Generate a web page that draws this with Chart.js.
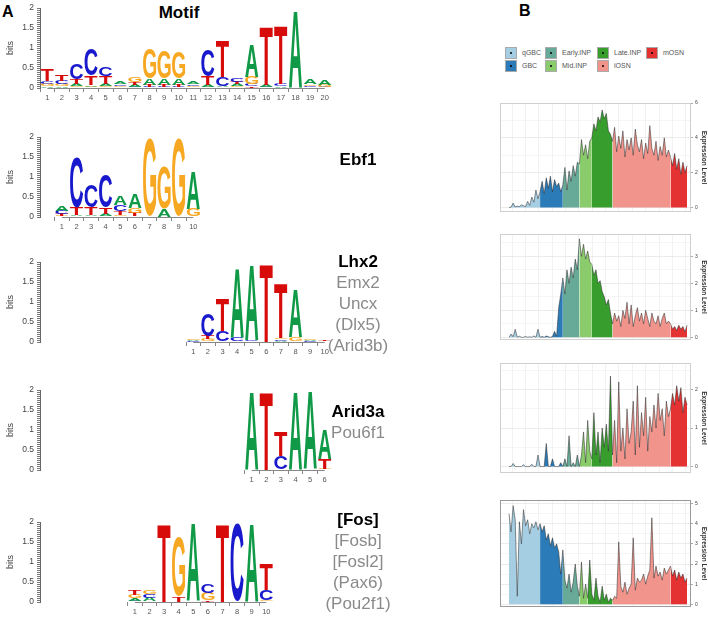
<!DOCTYPE html>
<html>
<head>
<meta charset="utf-8">
<script src="https://cdn.jsdelivr.net/npm/chart.js@4.4.1/dist/chart.umd.min.js"></script>
<style>
  body { margin: 0; background: #fff; font-family: "Liberation Sans", Arial, sans-serif; }
  #wrap { position: relative; width: 708px; height: 617px; overflow: hidden; }
  canvas { position: absolute; }
  .panel-letter { position: absolute; font-weight: bold; font-size: 16px; }
  .title { position: absolute; font-weight: bold; font-size: 17px; left: 139px; width: 80px; text-align: center; top: 3px; }
  .genes { position: absolute; left: 298px; width: 120px; text-align: center; font-size: 17px; line-height: 21px; color: #8a8a8a; }
  .genes b { color: #000; }
  .legend-item { position: absolute; font-size: 7px; color: #555; line-height: 12px; }
  .legend-box { position: absolute; width: 10px; height: 10px; border: 1px solid #aaa; left: 0; top: 0; }
  .legend-box::after { content: ''; position: absolute; left: 4px; top: 4px; width: 2px; height: 2px; background: #000; border-radius: 1px; }
  .legend-item span { position: absolute; left: 17px; top: 0; white-space: nowrap; }
</style>
</head>
<body>
<div id="wrap">
  <div class="panel-letter" style="left:2px;top:3px;">A</div>
  <div class="panel-letter" style="left:519px;top:2px;">B</div>
  <div class="title">Motif</div>

  <canvas id="logo-motif" width="334" height="102" style="left:0;top:0;"></canvas>
  <canvas id="logo-ebf1" width="334" height="102" style="left:0;top:129px;"></canvas>
  <canvas id="logo-lhx2" width="334" height="102" style="left:0;top:254px;"></canvas>
  <canvas id="logo-arid3a" width="334" height="102" style="left:0;top:382px;"></canvas>
  <canvas id="logo-fos" width="334" height="102" style="left:0;top:514px;"></canvas>

  <div class="genes" style="top:149px;"><b>Ebf1</b></div>
  <div class="genes" style="top:251px;"><b>Lhx2</b><br>Emx2<br>Uncx<br>(Dlx5)<br>(Arid3b)</div>
  <div class="genes" style="top:401px;"><b>Arid3a</b><br>Pou6f1</div>
  <div class="genes" style="top:509px;"><b>[Fos]</b><br>[Fosb]<br>[Fosl2]<br>(Pax6)<br>(Pou2f1)</div>

  <div id="legend"></div>

  <canvas id="expr-ebf1" width="208" height="119" style="left:500px;top:98px;"></canvas>
  <canvas id="expr-lhx2" width="208" height="116" style="left:500px;top:229px;"></canvas>
  <canvas id="expr-arid3a" width="208" height="120" style="left:500px;top:358px;"></canvas>
  <canvas id="expr-fos" width="208" height="117" style="left:500px;top:495px;"></canvas>
</div>

<script>
// ---- data ----
const letterColors = { A: '#109a48', C: '#1818cc', G: '#f7a823', T: '#d80b0b' };

// information content (bits) per letter for each motif position
const motifLogo = [
  { T: 0.28, C: 0.07, G: 0.06, A: 0.05 },
  { T: 0.15, C: 0.09, G: 0.05, A: 0.04 },
  { C: 0.38, T: 0.12, A: 0.05, G: 0.04 },
  { C: 0.66, T: 0.24, A: 0.04, G: 0.03 },
  { C: 0.22, T: 0.2, A: 0.06, G: 0.04 },
  { A: 0.07, C: 0.04, G: 0.03, T: 0.02 },
  { G: 0.12, T: 0.07, A: 0.05, C: 0.03 },
  { G: 0.75, A: 0.15, T: 0.05, C: 0.03 },
  { G: 0.7, A: 0.16, T: 0.05, C: 0.03 },
  { G: 0.64, A: 0.17, T: 0.05, C: 0.03 },
  { A: 0.05, C: 0.04, G: 0.03, T: 0.02 },
  { C: 0.66, T: 0.21, A: 0.05, G: 0.03 },
  { T: 0.92, C: 0.22, A: 0.03, G: 0.02 },
  { C: 0.08, T: 0.07, A: 0.05, G: 0.04 },
  { A: 0.8, G: 0.18, C: 0.05, T: 0.04 },
  { T: 1.45, A: 0.05, C: 0.03 },
  { T: 1.45, C: 0.05, A: 0.04 },
  { A: 1.92 },
  { A: 0.12, G: 0.04, C: 0.03, T: 0.02 },
  { A: 0.13, G: 0.05, C: 0.03 }
];
const ebf1Logo = [
  { A: 0.12, C: 0.08, T: 0.05, G: 0.03 },
  { C: 1.25, T: 0.18, A: 0.03, G: 0.02 },
  { C: 0.55, T: 0.2, A: 0.03, G: 0.02 },
  { C: 0.83, T: 0.16, A: 0.05, G: 0.02 },
  { A: 0.22, C: 0.15, T: 0.1, G: 0.04 },
  { A: 0.36, G: 0.13, T: 0.08, C: 0.02 },
  { G: 1.97 },
  { G: 1.05, A: 0.22 },
  { G: 1.97 },
  { A: 0.95, G: 0.2 }
];
const lhx2Logo = [
  { G: 0.03, A: 0.025, C: 0.02, T: 0.01 },
  { C: 0.55, T: 0.08, G: 0.05, A: 0.02 },
  { T: 0.8, C: 0.25, A: 0.02 },
  { A: 1.72, C: 0.12 },
  { A: 1.9, C: 0.04 },
  { T: 1.97 },
  { T: 1.38, C: 0.04, G: 0.04, A: 0.03 },
  { A: 1.2, G: 0.1, C: 0.02 },
  { G: 0.04, A: 0.03, C: 0.02, T: 0.01 },
  { T: 0.015, A: 0.01, C: 0.01, G: 0.01 }
];
const arid3aLogo = [
  { A: 1.97 },
  { T: 1.97 },
  { T: 0.6, C: 0.35 },
  { A: 1.97 },
  { A: 1.96 },
  { A: 0.75, T: 0.25, G: 0.03 }
];
const fosLogo = [
  { T: 0.12, G: 0.08, A: 0.07, C: 0.03 },
  { G: 0.11, C: 0.1, A: 0.08, T: 0.02 },
  { T: 1.97 },
  { G: 1.47, T: 0.15 },
  { A: 1.95, T: 0.02 },
  { C: 0.22, G: 0.18, T: 0.05 },
  { T: 1.97 },
  { C: 1.97 },
  { A: 1.97 },
  { T: 0.65, C: 0.25, G: 0.04 }
];
const bitTickLabels = [0, 0.5, 1, 1.5, 2];

// expression along pseudotime, cells grouped by type
const cellTypes = ['qGBC', 'GBC', 'Early.INP', 'Mid.INP', 'Late.INP', 'iOSN', 'mOSN'];
const cellColors = ['#a6cee3', '#2a7bb8', '#68aa98', '#8acc6c', '#379e2e', '#f1948c', '#e43232'];
const legendOrder = ['qGBC', 'GBC', 'Early.INP', 'Mid.INP', 'Late.INP', 'iOSN', 'mOSN'];
const groupSizes = [15, 11, 8, 6, 10, 28, 9];
const fosGroupSizes = [15, 11, 8, 4, 12, 28, 9];

const ebf1Expr = [
  0, 0.02, 0.25, 0.03, 0.08, 0.05, 0.15, 0.1, 0.05, 0.35, 0.12, 0.6, 0.3, 1.0, 0.5,
  0.9, 1.5, 0.8, 1.7, 1.1, 1.8, 0.9, 1.6, 1.2, 1.4, 0.9,
  1.3, 2.3, 1.0, 2.1, 1.5, 2.4, 1.8, 2.6,
  2.5, 3.9, 3.0, 3.6, 2.8, 3.8,
  4.0, 4.8, 4.4, 5.2, 4.9, 5.6, 5.1, 5.4, 4.4, 4.2,
  3.8, 4.6, 3.2, 4.1, 3.4, 4.4, 2.9, 3.9, 3.3, 4.0, 3.0, 4.5, 3.6, 3.2, 3.9, 2.8, 3.7, 3.1, 4.7, 3.4, 3.0, 3.8, 2.7, 3.5, 3.0, 4.0, 2.9, 3.3,
  2.9, 2.4, 3.1, 2.2, 2.8, 1.9, 2.6, 2.0, 2.4
];
const lhx2Expr = [
  0, 0.12, 0.02, 0.3, 0, 0.04, 0, 0, 0.03, 0, 0.02, 0, 0.05, 0, 0.3,
  0, 0.03, 0, 0.05, 0.02, 0, 0.03, 0.22, 0.04, 1.1, 1.6,
  2.2, 1.6, 2.5, 2.0, 2.6, 2.2, 2.9, 2.5,
  3.65, 3.0, 3.45, 2.9, 3.2, 2.8,
  2.7, 2.3, 2.5, 2.0, 2.1, 1.7, 1.5, 1.2, 1.4, 0.9,
  0.5, 0.9, 0.6, 0.8, 0.4, 1.0, 0.7, 1.3, 0.5, 1.2, 0.4, 0.8, 1.1, 0.6, 0.9, 0.5, 1.0, 0.7, 0.4, 0.9, 0.6, 0.5, 0.8, 0.4, 0.7, 0.9, 0.5, 0.6,
  0.5, 0.3, 0.4, 0.25, 0.45, 0.3, 0.4, 0.2, 0.45
];
const arid3aExpr = [
  0, 0, 0.08, 0, 0, 0, 0, 0.05, 0, 0, 0, 0.06, 0, 0, 0.3,
  0, 0, 0, 0.6, 0, 0, 0.2, 0, 0, 0, 0.1,
  0, 0.2, 0, 0.8, 0, 0.1, 0, 0.3,
  0, 0.3, 0.9, 0.1, 1.2, 0.4,
  0.2, 1.4, 0.3, 0.9, 0.1, 1.0, 0.5, 1.1, 0.4, 2.35,
  0.3, 1.2, 0.1, 2.2, 0.4, 1.0, 0.2, 1.5, 0.6, 0.9, 1.7, 0.3, 2.1, 0.5, 1.4, 0.8, 1.8, 0.4, 1.3, 0.9, 1.6, 1.0, 1.9, 1.2, 1.5, 0.8, 1.7, 1.3,
  1.5, 1.9, 1.6, 2.1, 1.7, 2.05, 1.4, 1.8, 1.6
];
const fosExpr = [
  4.5, 3.6, 4.9, 4.2, 0.4, 4.1, 3.0, 4.7, 3.9, 4.2, 3.5, 4.0, 3.8, 4.1, 3.7,
  4.0, 3.6, 3.9, 3.2, 3.5, 2.9, 3.3, 2.8, 3.0, 2.6, 1.5,
  2.7, 1.2, 0.8, 1.5, 0.6, 1.1, 2.0, 0.9,
  0.4, 2.1, 0.3, 1.0,
  0.3, 2.2, 0.5, 0.2, 1.3, 0.4, 0.1, 0.9, 0.2, 0.5, 0.1, 0.3,
  0.2, 0.4, 0.3, 3.1, 0.9, 0.6, 1.1, 0.5, 0.8, 1.0, 3.3, 0.7, 1.3, 1.1, 1.2, 1.5, 1.0, 1.4, 1.7, 4.3, 1.3, 1.9, 1.4, 1.6, 1.2, 1.8, 1.5, 1.7,
  1.9, 1.4, 1.7, 1.2, 1.6, 1.3, 1.5, 1.1, 1.3
];

Chart.defaults.font.family = '"Liberation Sans", Arial, sans-serif';

// ---- sequence logos ----
function drawGlyph(ctx, letter, x, y, w, h) {
  ctx.save();
  ctx.font = 'bold 100px "Liberation Sans", Arial, sans-serif';
  const m = ctx.measureText(letter);
  const gw = m.actualBoundingBoxLeft + m.actualBoundingBoxRight;
  const gh = m.actualBoundingBoxAscent + m.actualBoundingBoxDescent;
  ctx.translate(x, y);
  ctx.scale(w / gw, h / gh);
  ctx.fillStyle = letterColors[letter];
  ctx.textAlign = 'left';
  ctx.textBaseline = 'alphabetic';
  ctx.fillText(letter, m.actualBoundingBoxLeft, m.actualBoundingBoxAscent);
  ctx.restore();
}

const letterPlugin = {
  id: 'letters',
  afterDatasetsDraw(chart) {
    const ctx = chart.ctx;
    chart.data.datasets.forEach((ds, di) => {
      chart.getDatasetMeta(di).data.forEach((bar, i) => {
        const letter = ds.letters[i];
        if (!letter) return;
        const p = bar.getProps(['x', 'y', 'base', 'width'], true);
        const h = Math.abs(p.base - p.y);
        if (h < 0.3) return;
        drawGlyph(ctx, letter, p.x - p.width / 2, Math.min(p.y, p.base), p.width, h);
      });
    });
    // x axis line only under the motif positions
    const xs = chart.scales.x;
    const first = chart.options.plugins.letters.first;
    const last = chart.options.plugins.letters.last;
    ctx.save();
    ctx.strokeStyle = '#888';
    ctx.lineWidth = 1;
    ctx.beginPath();
    ctx.moveTo(xs.getPixelForValue(first), xs.top + 0.5);
    ctx.lineTo(xs.getPixelForValue(last), xs.top + 0.5);
    ctx.stroke();
    ctx.restore();
  }
};

function drawLogo(id, columns, offset) {
  const slots = 20;
  const labels = [];
  for (let i = 0; i < slots; i++) {
    const k = i - offset;
    labels.push(k >= 0 && k < columns.length ? String(k + 1) : '');
  }
  // smallest letter at the bottom of each stack
  const stacks = columns.map(col => Object.entries(col).sort((a, b) => a[1] - b[1]));
  const depth = Math.max(...stacks.map(s => s.length));
  const datasets = [];
  for (let r = 0; r < depth; r++) {
    datasets.push({
      data: labels.map((l, i) => { const s = stacks[i - offset]; return s && s[r] ? s[r][1] : null; }),
      letters: labels.map((l, i) => { const s = stacks[i - offset]; return s && s[r] ? s[r][0] : null; }),
      backgroundColor: 'rgba(0,0,0,0)',
      categoryPercentage: 0.9,
      barPercentage: 1
    });
  }
  new Chart(document.getElementById(id), {
    type: 'bar',
    data: { labels, datasets },
    plugins: [letterPlugin],
    options: {
      responsive: false,
      animation: false,
      events: [],
      layout: { padding: { top: 4, right: 2, left: 0, bottom: 0 } },
      plugins: {
        legend: { display: false },
        tooltip: { enabled: false },
        letters: { first: offset, last: offset + columns.length - 1 }
      },
      scales: {
        x: {
          stacked: true,
          border: { display: false },
          grid: {
            drawOnChartArea: false,
            drawTicks: true,
            tickLength: 4,
            tickColor: c => (labels[c.index] ? '#888' : 'rgba(0,0,0,0)')
          },
          ticks: { autoSkip: false, maxRotation: 0, padding: 1, color: '#555', font: { size: 7.5 } },
          afterFit(s) { s.height = 14; }
        },
        y: {
          stacked: true,
          min: 0,
          max: 2,
          border: { display: true, color: '#666' },
          grid: { drawOnChartArea: false, drawTicks: true, tickLength: 3, tickColor: '#777' },
          afterBuildTicks(s) {
            const t = [];
            for (let v = 0; v <= 40; v++) t.push({ value: v * 0.05 });
            s.ticks = t;
          },
          ticks: {
            autoSkip: false,
            padding: 3,
            color: '#444',
            font: { size: 8.5 },
            callback: v => (bitTickLabels.some(b => Math.abs(b - v) < 1e-6) ? String(+v.toFixed(1)) : '')
          },
          title: { display: true, text: 'bits', color: '#444', font: { size: 9 }, padding: { top: 5, bottom: 0 } },
          afterFit(s) { s.width = 40; }
        }
      }
    }
  });
}

drawLogo('logo-motif', motifLogo, 0);
drawLogo('logo-ebf1', ebf1Logo, 1);
drawLogo('logo-lhx2', lhx2Logo, 10);
drawLogo('logo-arid3a', arid3aLogo, 14);
drawLogo('logo-fos', fosLogo, 6);

// ---- legend ----
const legendSlots = [[0, 0], [0, 1], [1, 0], [1, 1], [2, 0], [2, 1], [3, 0]];
const legendColX = [505, 545, 597, 646];
const legend = document.getElementById('legend');
legendOrder.forEach((name, i) => {
  const [c, r] = legendSlots[i];
  const item = document.createElement('div');
  item.className = 'legend-item';
  item.style.left = legendColX[c] + 'px';
  item.style.top = (47 + r * 13) + 'px';
  const box = document.createElement('div');
  box.className = 'legend-box';
  box.style.background = cellColors[cellTypes.indexOf(name)];
  const txt = document.createElement('span');
  txt.textContent = name;
  item.appendChild(box);
  item.appendChild(txt);
  legend.appendChild(item);
});

// ---- expression panels ----
const panelBox = {
  id: 'panelBox',
  beforeDraw(chart) {
    const a = chart.chartArea;
    chart.ctx.save();
    chart.ctx.fillStyle = '#fff';
    chart.ctx.fillRect(a.left, a.top, a.right - a.left, a.bottom - a.top);
    chart.ctx.restore();
  },
  afterDraw(chart, args, opts) {
    const a = chart.chartArea;
    const ctx = chart.ctx;
    ctx.save();
    ctx.strokeStyle = opts.color;
    ctx.lineWidth = 1;
    ctx.strokeRect(a.left + 0.5, a.top + 0.5, a.right - a.left - 1, a.bottom - a.top - 1);
    ctx.restore();
  }
};

function drawExpression(id, values, sizes, yMin, yMax, gridStep, labelStep, boxColor) {
  const datasets = [];
  let start = 0;
  sizes.forEach((n, g) => {
    const end = Math.min(start + n, values.length - 1);
    const pts = [];
    for (let i = start; i <= end; i++) pts.push({ x: i, y: values[i] });
    datasets.push({
      label: cellTypes[g],
      data: pts,
      fill: 'origin',
      backgroundColor: cellColors[g],
      borderColor: 'rgba(45,45,45,0.75)',
      borderWidth: 0.7,
      pointRadius: 0,
      tension: 0
    });
    start += n;
  });
  const isLabel = v => Math.abs(v / labelStep - Math.round(v / labelStep)) < 1e-6;
  new Chart(document.getElementById(id), {
    type: 'line',
    data: { datasets },
    plugins: [panelBox],
    options: {
      responsive: false,
      animation: false,
      events: [],
      layout: { padding: 0 },
      plugins: {
        legend: { display: false },
        tooltip: { enabled: false },
        panelBox: { color: boxColor }
      },
      scales: {
        x: {
          type: 'linear',
          min: -4.35,
          max: values.length - 1 + 1.9,
          border: { display: false },
          grid: { color: '#ececec', lineWidth: 0.7, drawTicks: false },
          afterBuildTicks(s) {
            const t = [];
            for (let v = 1.5; v < values.length + 1; v += 6.45) t.push({ value: v });
            s.ticks = t;
          },
          ticks: { display: false },
          afterFit(s) { s.height = 0; }
        },
        y: {
          position: 'right',
          min: yMin,
          max: yMax,
          border: { display: false },
          afterBuildTicks(s) {
            const t = [];
            for (let v = 0; v <= yMax + 1e-9; v += gridStep) t.push({ value: +v.toFixed(3) });
            s.ticks = t;
          },
          grid: {
            color: c => (isLabel(c.tick.value) ? '#e2e2e2' : '#f0f0f0'),
            lineWidth: 0.7,
            drawTicks: true,
            tickLength: 2,
            tickColor: c => (isLabel(c.tick.value) ? '#888' : 'rgba(0,0,0,0)')
          },
          ticks: {
            autoSkip: false,
            padding: 2,
            color: '#444',
            font: { size: 5 },
            callback: v => (isLabel(v) ? String(v) : '')
          },
          title: {
            display: true,
            text: 'Expression Level',
            color: '#333',
            font: { size: 6.5, weight: 'bold' },
            padding: { top: 0, bottom: 0 }
          },
          afterFit(s) { s.width = 17; }
        }
      }
    }
  });
}

drawExpression('expr-ebf1', ebf1Expr, groupSizes, -0.26, 6.0, 1, 2, '#cfcfcf');
drawExpression('expr-lhx2', lhx2Expr, groupSizes, -0.1, 3.83, 0.5, 1, '#cfcfcf');
drawExpression('expr-arid3a', arid3aExpr, groupSizes, -0.167, 2.69, 0.5, 1, '#cfcfcf');
drawExpression('expr-fos', fosExpr, fosGroupSizes, -0.136, 5.18, 0.5, 1, '#9a9a9a');
</script>
</body>
</html>
